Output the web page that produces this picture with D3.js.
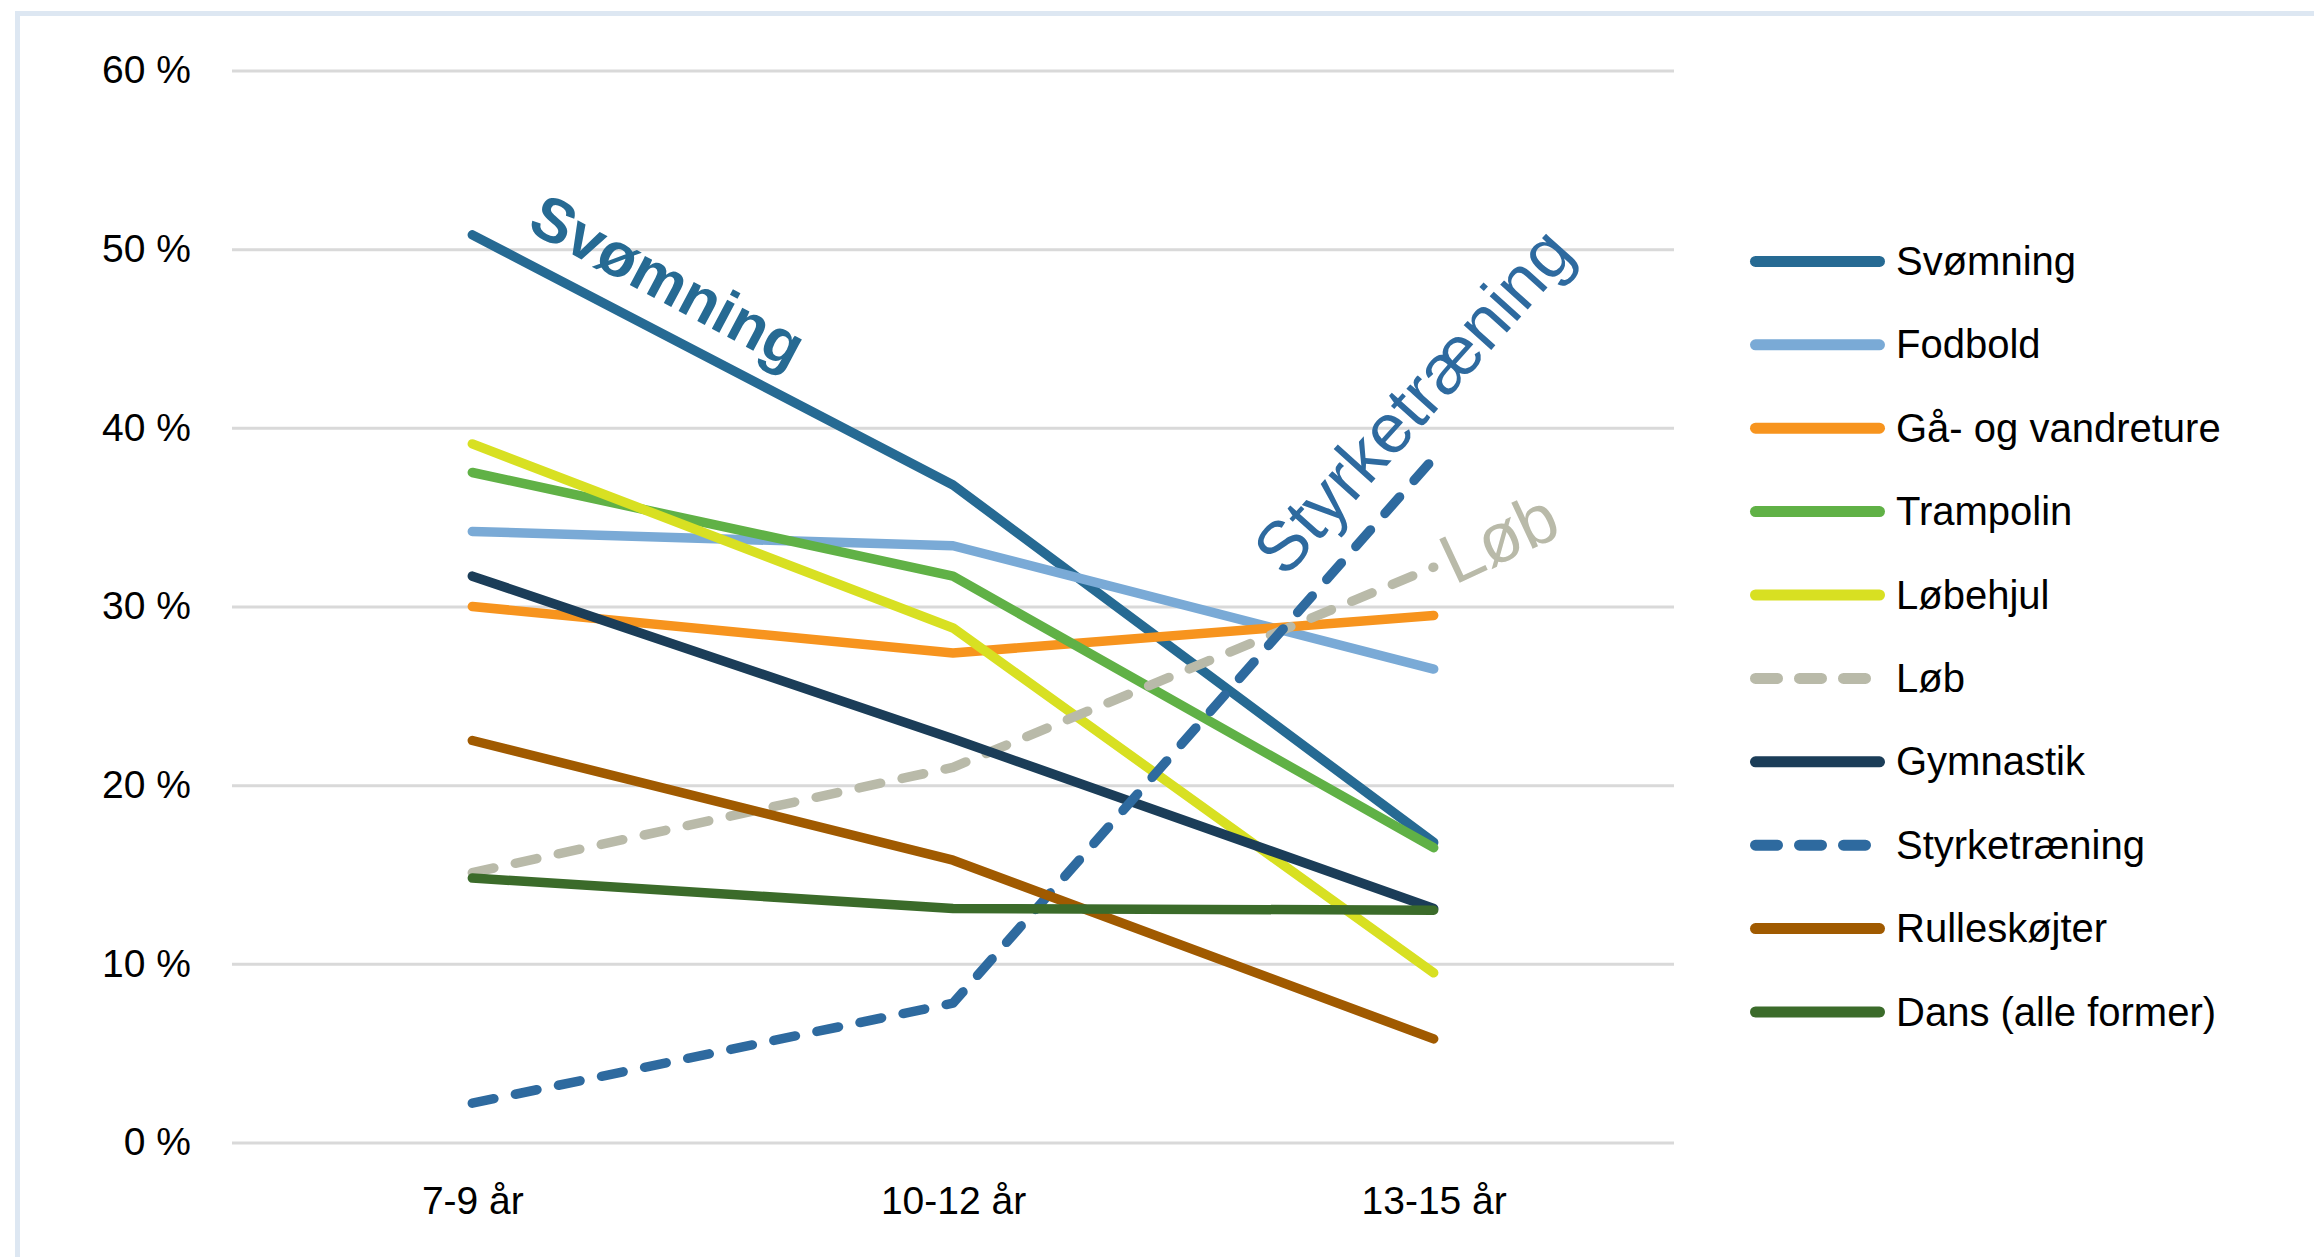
<!DOCTYPE html>
<html lang="da">
<head>
    <meta charset="UTF-8">
    <title>Aktiviteter efter alder</title>
    <script src="https://d3js.org/d3.v7.min.js"></script>
    <style>
        body { margin: 0; background: #fff; overflow: hidden; }
        svg { display: block; font-family: "Liberation Sans", Arial, sans-serif; }
        .tick text { fill: #000; }
    </style>
</head>
<body>
    <svg id="chart"></svg>

    <script>
        // Data
        const categories = ["7-9 år", "10-12 år", "13-15 år"];
        const yTicks = [0, 10, 20, 30, 40, 50, 60];

        const svomning     = [50.8, 36.8, 16.8];
        const fodbold      = [34.2, 33.4, 26.5];
        const gaaVandre    = [30.0, 27.4, 29.5];
        const trampolin    = [37.5, 31.7, 16.5];
        const lobehjul     = [39.1, 28.8, 9.5];
        const lob          = [15.1, 21.0, 32.2];
        const gymnastik    = [31.7, 22.6, 13.1];
        const styrke       = [2.2, 7.8, 38.3];
        const rulleskojter = [22.5, 15.8, 5.8];
        const dans         = [14.8, 13.1, 13.0];

        const seriesNames = ["Svømning", "Fodbold", "Gå- og vandreture", "Trampolin", "Løbehjul",
                             "Løb", "Gymnastik", "Styrketræning", "Rulleskøjter", "Dans (alle former)"];
        const seriesValues = [svomning, fodbold, gaaVandre, trampolin, lobehjul,
                              lob, gymnastik, styrke, rulleskojter, dans];
        const seriesColors = ["#266a93", "#7aaad6", "#f7941e", "#60b146", "#d8e022",
                              "#b9baa9", "#1b3d58", "#2e6a9f", "#a05a00", "#3b6b2a"];
        const seriesDashed = [false, false, false, false, false, true, false, true, false, false];

        const series = seriesNames.map((name, i) => ({
            name, values: seriesValues[i], color: seriesColors[i], dashed: seriesDashed[i]
        }));

        // Layout
        const width = 2314, height = 1257;
        const plot = { left: 232, right: 1674, top: 70.5, bottom: 1142.5 };

        const svg = d3.select("#chart").attr("width", width).attr("height", height);

        // light frame (only top and left are visible)
        svg.append("rect")
            .attr("x", 17.5).attr("y", 13.5)
            .attr("width", width + 100).attr("height", height + 100)
            .attr("fill", "#fff")
            .attr("stroke", "#dde7f2")
            .attr("stroke-width", 5);

        const x = d3.scalePoint()
            .domain(categories)
            .range([plot.left, plot.right])
            .padding(0.5);

        const y = d3.scaleLinear()
            .domain([0, 60])
            .range([plot.bottom, plot.top]);

        // Y axis + gridlines
        const yAxis = svg.append("g")
            .attr("transform", `translate(${plot.left},0)`)
            .call(d3.axisLeft(y)
                .tickValues(yTicks)
                .tickSize(-(plot.right - plot.left))
                .tickPadding(41)
                .tickFormat(d => d + " %"));
        yAxis.select(".domain").remove();
        yAxis.selectAll(".tick line").attr("stroke", "#d9d9d9").attr("stroke-width", 3);
        yAxis.selectAll(".tick text").attr("font-size", 39).attr("font-family", "Liberation Sans, Arial, sans-serif");

        // X axis
        const xAxis = svg.append("g")
            .attr("transform", `translate(0,${plot.bottom})`)
            .call(d3.axisBottom(x).tickSize(0).tickPadding(44));
        xAxis.select(".domain").remove();
        xAxis.selectAll(".tick text").attr("font-size", 39).attr("font-family", "Liberation Sans, Arial, sans-serif");

        // Lines
        const line = d3.line()
            .x((d, i) => x(categories[i]))
            .y(d => y(d));

        svg.append("g").selectAll("path")
            .data(series)
            .enter().append("path")
            .attr("d", d => line(d.values))
            .attr("fill", "none")
            .attr("stroke", d => d.color)
            .attr("stroke-width", 9.5)
            .attr("stroke-linecap", "round")
            .attr("stroke-linejoin", "round")
            .attr("stroke-dasharray", d => d.dashed ? "22 22" : null);

        // Annotations on the lines
        const notes = [
            { text: "Svømning", x: 668, y: 281, angle: 28, size: 62, weight: "bold", color: "#266a93" },
            { text: "Styrketræning", x: 1413, y: 401, angle: -48, size: 70, weight: "normal", color: "#2e6a9f" },
            { text: "Løb", x: 1499, y: 538, angle: -25, size: 70, weight: "normal", color: "#b9baa9" }
        ];
        svg.append("g").selectAll("text")
            .data(notes)
            .enter().append("text")
            .attr("transform", d => `translate(${d.x},${d.y}) rotate(${d.angle})`)
            .attr("text-anchor", "middle")
            .attr("dominant-baseline", "central")
            .attr("font-size", d => d.size)
            .attr("font-weight", d => d.weight)
            .attr("fill", d => d.color)
            .text(d => d.text);

        // Legend
        const legend = svg.append("g");
        const rowY = i => 261.4 + i * 83.4;
        const legendRows = legend.selectAll("g")
            .data(series)
            .enter().append("g")
            .attr("transform", (d, i) => `translate(0,${rowY(i)})`);

        legendRows.append("line")
            .attr("x1", 1755.5).attr("x2", d => d.dashed ? 1884 : 1879.5)
            .attr("stroke", d => d.color)
            .attr("stroke-width", 11)
            .attr("stroke-linecap", "round")
            .attr("stroke-dasharray", d => d.dashed ? "22 22" : null);

        legendRows.append("text")
            .attr("x", 1896)
            .attr("y", 13.5)
            .attr("font-size", 40)
            .attr("fill", "#000")
            .text(d => d.name);
    </script>
</body>
</html>
